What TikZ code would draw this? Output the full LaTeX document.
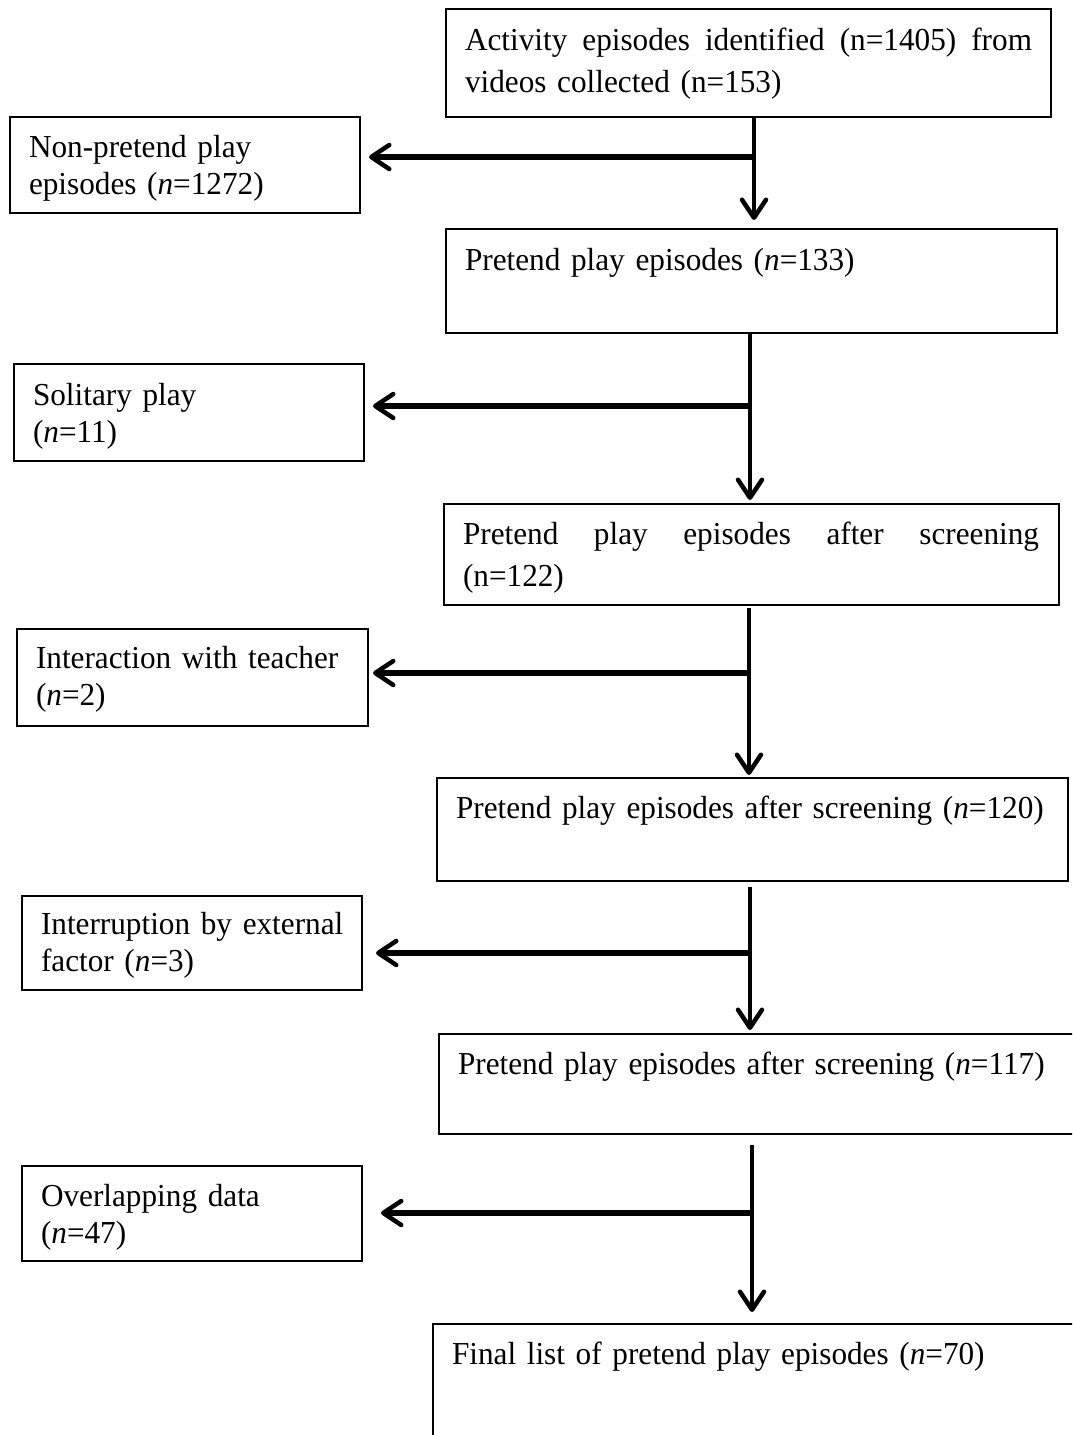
\documentclass[tikz,border=0pt]{standalone}
\usepackage{fontspec}
\setmainfont[FakeStretch=0.976]{Liberation Serif}
\usetikzlibrary{arrows.meta}
\begin{document}
\begin{tikzpicture}[x=1pt,y=-1pt,
  box/.style={draw, line width=2pt, anchor=north west, outer sep=0pt,
    inner xsep=19pt, inner ysep=0pt, align=left,
    font=\fontsize{32}{42}\selectfont},
  sidebox/.style={box, font=\fontsize{32}{37}\selectfont},
  tipb/.tip={Straight Barb[length=18pt,width=24pt,line width=4.5pt,round]},
  varrow/.style={line width=4.5pt, -tipb},
  harrow/.style={line width=6pt, -tipb},
]
\clip (0,0) rectangle (1072,1435);
\fill[white] (0,0) rectangle (1072,1435);

% main column
\node[box, text width=567pt, text height=41pt, text depth=67pt] (B1) at (446,9)
  {\hbox to 567pt{Activity\hfill{} episodes\hfill{} identified\hfill{} (n=1405)\hfill{} from}\\videos collected (n=153)};
\node[box, text width=573pt, text height=41pt, text depth=63pt] (B2) at (446,229)
  {\mbox{Pretend play episodes (\textit{n}=133)}};
\node[box, text width=577pt, text height=40pt, text depth=61pt] (B3) at (444,504)
  {\hbox to 576pt{Pretend\hfill{} play\hfill{} episodes\hfill{} after\hfill{} screening}\\(n=122)};
\node[box, text width=593pt, text height=40pt, text depth=63pt] (B4) at (437,778)
  {\mbox{Pretend play episodes after screening (\textit{n}=120)}};
\node[box, text width=608pt, text height=40pt, text depth=60pt] (B5) at (439,1034)
  {\mbox{Pretend play episodes after screening (\textit{n}=117)}};
\node[box, text width=614pt, text height=40pt, text depth=106pt] (B6) at (433,1324)
  {\mbox{Final list of pretend play episodes (\textit{n}=70)}};

% side boxes
\node[sidebox, text width=312pt, text height=40pt, text depth=56pt] (L1) at (10,117)
  {\mbox{Non-pretend play}\\\mbox{episodes (\textit{n}=1272)}};
\node[sidebox, text width=312pt, text height=41pt, text depth=56pt] (L2) at (14,364)
  {\mbox{Solitary play}\\(\textit{n}=11)};
\node[sidebox, text width=313pt, text height=39pt, text depth=58pt] (L3) at (17,629)
  {\mbox{Interaction with teacher}\\(\textit{n}=2)};
\node[sidebox, text width=302pt, text height=38pt, text depth=56pt] (L4) at (22,896)
  {\mbox{Interruption by external}\\\mbox{factor (\textit{n}=3)}};
\node[sidebox, text width=302pt, text height=40pt, text depth=55pt] (L5) at (22,1166)
  {\mbox{Overlapping data}\\(\textit{n}=47)};

% junctions
\coordinate (j1) at (754,157);
\coordinate (j2) at (750,406);
\coordinate (j3) at (749,673);
\coordinate (j4) at (750,953);
\coordinate (j5) at (752,1213);

% connectors
\draw[varrow, shorten >=9pt] (j1 |- B1.south) -- (j1 |- B2.north);
\draw[harrow, shorten >=9pt] (j1) -- (L1.east |- j1);

\draw[varrow, shorten >=4pt] (j2 |- B2.south) -- (j2 |- B3.north);
\draw[harrow, shorten >=9pt] (j2) -- (L2.east |- j2);

\draw[varrow, shorten <=3pt, shorten >=3pt] (j3 |- B3.south) -- (j3 |- B4.north);
\draw[harrow, shorten >=5pt] (j3) -- (L3.east |- j3);

\draw[varrow, shorten <=6pt, shorten >=4pt] (j4 |- B4.south) -- (j4 |- B5.north);
\draw[harrow, shorten >=14pt] (j4) -- (L4.east |- j4);

\draw[varrow, shorten <=11pt, shorten >=12pt] (j5 |- B5.south) -- (j5 |- B6.north);
\draw[harrow, shorten >=19pt] (j5) -- (L5.east |- j5);
\end{tikzpicture}
\end{document}
